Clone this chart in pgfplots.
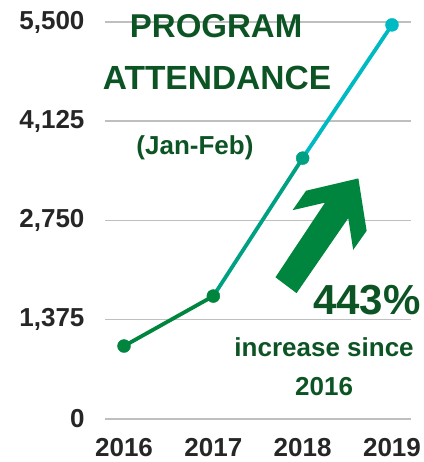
\documentclass[border=0pt]{standalone}
\usepackage{pgfplots}
\pgfplotsset{compat=1.18}
\usepackage{fontspec}
\setmainfont{Liberation Sans}
\definecolor{segA}{RGB}{0,133,62}
\definecolor{segB}{RGB}{0,160,130}
\definecolor{segC}{RGB}{0,186,195}
\definecolor{dkgreen}{RGB}{12,84,36}
\definecolor{ticktxt}{RGB}{38,38,38}
\definecolor{gridc}{RGB}{191,191,191}
\begin{document}
\begin{tikzpicture}
\begin{axis}[
  scale only axis,
  width=306pt, height=397pt,
  xmin=-0.213, xmax=3.213,
  ymin=0, ymax=5500,
  xtick={0,1,2,3},
  xticklabels={2016,2017,2018,2019},
  ytick={0,1375,2750,4125,5500},
  yticklabels={0,{1,375},{2,750},{4,125},{5,500}},
  axis line style={draw=none},
  tick style={draw=none},
  ymajorgrids,
  grid style={gridc, line width=1.5pt},
  ticklabel style={font=\fontsize{26}{28}\selectfont\bfseries, text=ticktxt},
  /pgf/number format/assume math mode=true,
  yticklabel style={xshift=-17pt},
  xticklabel style={yshift=-16pt},
  clip=false,
]
\addplot[segA, line width=3.8pt] coordinates {(0,1011) (1,1703)};
\addplot[segB, line width=3.8pt] coordinates {(1,1703) (2,3614)};
\addplot[segC, line width=3.8pt] coordinates {(2,3614) (3,5460)};
\addplot[only marks, mark=*, mark size=6.5pt, segA] coordinates {(0,1011) (1,1703)};
\addplot[only marks, mark=*, mark size=6.5pt, segB] coordinates {(2,3614)};
\addplot[only marks, mark=*, mark size=6.5pt, segC] coordinates {(3,5460)};
\fill[segA] (rel axis cs:0.828,0.606) -- (rel axis cs:0.657,0.575) -- (rel axis cs:0.613,0.526)
  -- (rel axis cs:0.719,0.545) -- (rel axis cs:0.557,0.357) -- (rel axis cs:0.626,0.317)
  -- (rel axis cs:0.795,0.506) -- (rel axis cs:0.811,0.426) -- (rel axis cs:0.855,0.474) -- cycle;
\node[anchor=base, text=dkgreen, font=\fontsize{33}{35}\selectfont\bfseries] at (rel axis cs:0.363,0.961) {PROGRAM};
\node[anchor=base, text=dkgreen, font=\fontsize{33.5}{35}\selectfont\bfseries] at (rel axis cs:0.366,0.830) {ATTENDANCE};
\node[anchor=base, text=dkgreen, font=\fontsize{26}{28}\selectfont\bfseries] at (rel axis cs:0.294,0.667) {(Jan-Feb)};
\node[anchor=base, text=dkgreen, font=\fontsize{42}{44}\selectfont\bfseries] at (rel axis cs:0.856,0.262) {443\%};
\node[anchor=base, text=dkgreen, font=\fontsize{26}{28}\selectfont\bfseries] at (rel axis cs:0.716,0.157) {increase since};
\node[anchor=base, text=dkgreen, font=\fontsize{26}{28}\selectfont\bfseries] at (rel axis cs:0.716,0.060) {2016};
\coordinate (bl) at (rel axis cs:0,0);
\coordinate (tr) at (rel axis cs:1,1);
\end{axis}
\pgfresetboundingbox
\path ([shift={(-105pt,-43pt)}]bl) rectangle ([shift={(12pt,22pt)}]tr);
\end{tikzpicture}
\end{document}
